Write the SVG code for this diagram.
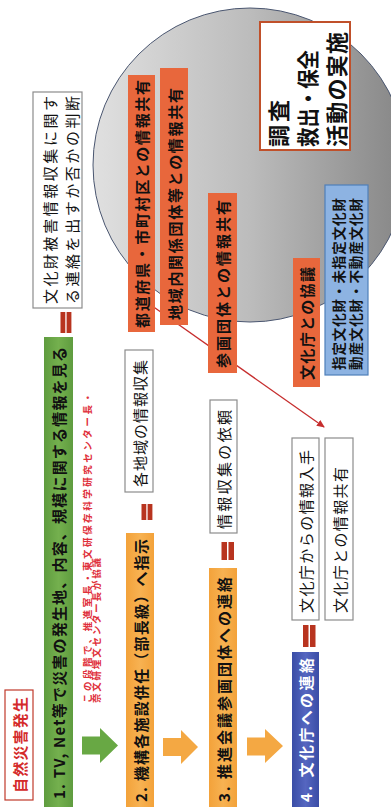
<svg xmlns="http://www.w3.org/2000/svg" width="391" height="807" viewBox="0 0 391 807">
<style>
.t{font-family:'Noto Sans CJK JP','Noto Sans',sans-serif;dominant-baseline:central;fill:#111}
.b{font-weight:bold}
.box{fill:#fff;stroke:#8c8c8c;stroke-width:1.2}
.or{fill:url(#gOr)}
.rd{fill:#e8673c}
.eq{fill:#b8341f}
</style>
<defs>
<linearGradient id="gCircle" x1="0" y1="0" x2="0" y2="1">
<stop offset="0" stop-color="#e0e0e0"/>
<stop offset="0.5" stop-color="#bcbcbc"/>
<stop offset="1" stop-color="#858585"/>
</linearGradient>
<linearGradient id="gGreen" x1="0" y1="0" x2="0" y2="1">
<stop offset="0" stop-color="#5f9c3f"/>
<stop offset="0.5" stop-color="#74b04e"/>
<stop offset="1" stop-color="#5f9c3f"/>
</linearGradient>
<linearGradient id="gOr" x1="0" y1="0" x2="0" y2="1">
<stop offset="0" stop-color="#f3a23a"/>
<stop offset="0.5" stop-color="#f7b252"/>
<stop offset="1" stop-color="#f3a23a"/>
</linearGradient>
<linearGradient id="gBlue" x1="0" y1="0" x2="0" y2="1">
<stop offset="0" stop-color="#3a4da6"/>
<stop offset="0.5" stop-color="#5566c0"/>
<stop offset="1" stop-color="#3a4da6"/>
</linearGradient>
<marker id="ah" markerWidth="8" markerHeight="8" refX="7" refY="4" orient="auto" markerUnits="userSpaceOnUse">
<path d="M0,0.5 L8,4 L0,7.5 Z" fill="#c62d2d"/>
</marker>
</defs>
<rect width="391" height="807" fill="#fff"/>
<g transform="translate(0,807) rotate(-90)">
<g id="circle">
<circle cx="642" cy="250" r="157" fill="url(#gCircle)" stroke="#4a5670" stroke-width="1"/>
</g>
<g id="connectors">
<line x1="504" y1="148" x2="380" y2="324" stroke="#c62d2d" stroke-width="1.3" marker-end="url(#ah)"/>
<polygon points="52.5,82 70.5,82 70.5,100 79,100 61.5,118 44,100 52.5,100" fill="#68a844"/>
<polygon points="51,163 69,163 69,181 77,181 60,198 43,181 51,181" fill="#f4a843"/>
<polygon points="51.5,247 69.5,247 69.5,265 78,265 61,283 44,265 51.5,265" fill="#f4a843"/>
<rect class="eq" x="474" y="60.5" width="21" height="4.8"/>
<rect class="eq" x="474" y="66.6" width="21" height="4.8"/>
<rect class="eq" x="287" y="141.5" width="16" height="4.8"/>
<rect class="eq" x="287" y="147.6" width="16" height="4.8"/>
<rect class="eq" x="247" y="221.5" width="18" height="5.5"/>
<rect class="eq" x="247" y="228.5" width="18" height="5.5"/>
<rect class="eq" x="160" y="303" width="22" height="5.5"/>
<rect class="eq" x="160" y="310" width="22" height="5.5"/>
</g>
<g id="n-start">
<rect x="7" y="5" width="110" height="28" fill="#fff" stroke="#c0392b" stroke-width="1.2"/>
<text class="t b" x="14" y="19" font-size="15" textLength="96" lengthAdjust="spacing" style="fill:#d42a2a">自然災害発生</text>
</g>
<g id="n-step1">
<rect x="0" y="44" width="470" height="29" fill="url(#gGreen)"/>
<text class="t b" x="8" y="58.5" font-size="15" textLength="452" lengthAdjust="spacing">1. TV, Net等で災害の発生地、内容、規模に関する情報を見る</text>
</g>
<g id="n-judge">
<rect class="box" x="499" y="33" width="216" height="49"/>
<text class="t" x="503" y="49.5" font-size="15" textLength="208" lengthAdjust="spacing">文化財被害情報収集に関す</text>
<text class="t" x="503" y="71.5" font-size="15" textLength="208" lengthAdjust="spacing">る連絡を出すか否かの判断</text>
</g>
<g id="n-note">
<text class="t b" x="104" y="87" font-size="9.5" textLength="310" lengthAdjust="spacing" style="fill:#e0303a">この段階で、推進室長・東文研保存科学研究センター長・</text>
<text class="t b" x="104" y="96" font-size="9.5" textLength="145" lengthAdjust="spacing" style="fill:#e0303a">奈文研埋文センター長が協議</text>
</g>
<g id="n-step2">
<rect class="or" x="0" y="126" width="274" height="28"/>
<text class="t b" x="5" y="140" font-size="15" textLength="263" lengthAdjust="spacing">2. 機構各施設併任（部長級）へ指示</text>
</g>
<g id="n-collect">
<rect class="box" x="315" y="125" width="142" height="28"/>
<text class="t" x="320" y="139" font-size="15" textLength="127" lengthAdjust="spacing">各地域の情報収集</text>
</g>
<g id="n-step3">
<rect class="or" x="0" y="209" width="239" height="28"/>
<text class="t b" x="5" y="223" font-size="15" textLength="225" lengthAdjust="spacing">3. 推進会議参画団体への連絡</text>
</g>
<g id="n-request">
<rect class="box" x="274" y="210" width="133" height="27"/>
<text class="t" x="278" y="223.5" font-size="15" textLength="119" lengthAdjust="spacing">情報収集の依頼</text>
</g>
<g id="n-step4">
<rect x="0" y="292" width="155" height="27" fill="url(#gBlue)"/>
<text class="t b" x="5" y="305.5" font-size="15" textLength="144" lengthAdjust="spacing" style="fill:#fff">4. 文化庁への連絡</text>
</g>
<g id="n-bunka-in">
<rect class="box" x="187" y="292" width="182" height="27"/>
<text class="t" x="194" y="305.5" font-size="15" textLength="163" lengthAdjust="spacing">文化庁からの情報入手</text>
</g>
<g id="n-bunka-share">
<rect class="box" x="187" y="325" width="182" height="28"/>
<text class="t" x="194" y="339" font-size="15" textLength="146" lengthAdjust="spacing">文化庁との情報共有</text>
</g>
<g id="n-pref">
<rect class="rd" x="475" y="128" width="257" height="27"/>
<text class="t b" x="479" y="141.5" font-size="15" textLength="248" lengthAdjust="spacing">都道府県・市町村区との情報共有</text>
</g>
<g id="n-local">
<rect class="rd" x="482" y="160" width="257" height="28"/>
<text class="t b" x="487" y="174" font-size="15" textLength="232" lengthAdjust="spacing">地域内関係団体等との情報共有</text>
</g>
<g id="n-member">
<rect class="rd" x="434" y="208" width="180" height="29"/>
<text class="t b" x="439" y="222.5" font-size="15" textLength="168" lengthAdjust="spacing">参画団体との情報共有</text>
</g>
<g id="n-consult">
<rect class="rd" x="420" y="293" width="129" height="27"/>
<text class="t b" x="427" y="306.5" font-size="15" textLength="113" lengthAdjust="spacing">文化庁との協議</text>
</g>
<g id="n-activity">
<rect x="657" y="260" width="128" height="90" fill="#fff" stroke="#c0502a" stroke-width="2"/>
<text class="t b" x="660" y="277" font-size="22" textLength="47" lengthAdjust="spacing">調査</text>
<text class="t b" x="660" y="306" font-size="22" textLength="97" lengthAdjust="spacingAndGlyphs">救出・保全</text>
<text class="t b" x="660" y="335" font-size="22" textLength="115" lengthAdjust="spacing">活動の実施</text>
</g>
<g id="n-types">
<rect x="432" y="325" width="190" height="43" fill="#8db3e2" stroke="#4f7fba" stroke-width="1.2"/>
<text class="t b" x="437" y="338" font-size="13.5" textLength="172" lengthAdjust="spacing">指定文化財・未指定文化財</text>
<text class="t b" x="437" y="355" font-size="13.5" textLength="172" lengthAdjust="spacing">動産文化財・不動産文化財</text>
</g>
</g>
</svg>
